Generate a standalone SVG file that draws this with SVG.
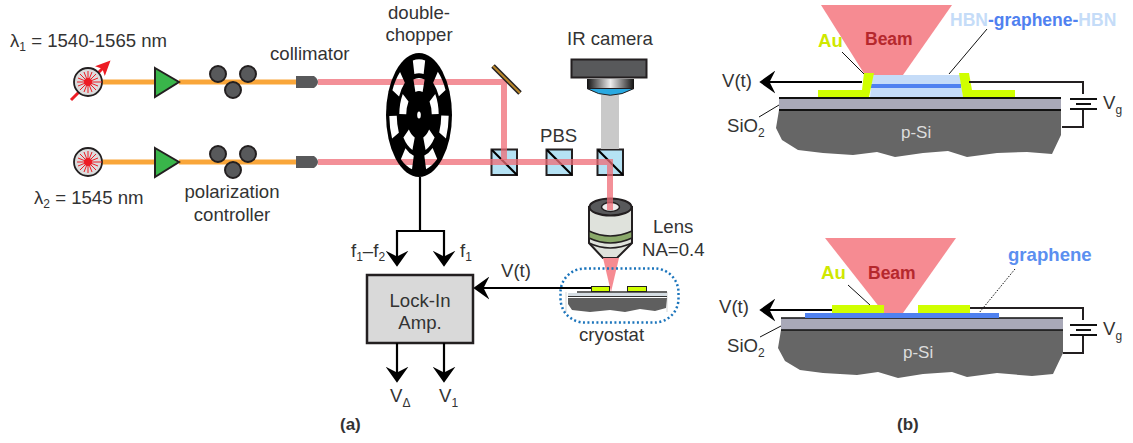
<svg xmlns="http://www.w3.org/2000/svg" width="1133" height="443" viewBox="0 0 1133 443">
<style>
text{font-family:"Liberation Sans",Arial,sans-serif;font-size:18.600px;fill:#333}
.m{text-anchor:middle}
.b{font-weight:700}
.sub{font-size:12px}
.fib{stroke:#f9a63a;stroke-width:5;fill:none}
.beam{stroke:#ef6b76;stroke-opacity:.75;stroke-width:6;fill:none}
.amp{fill:#39b54a;stroke:#231f20;stroke-width:2}
.pc{fill:#58595b;stroke:#231f20;stroke-width:2}
.coll{fill:#58595b}
.cube{fill:#b5e2f4;stroke:#231f20;stroke-width:2}
.w{stroke:#000;stroke-width:2.200;fill:none}
.wt{stroke:#231f20;stroke-width:2;fill:none}
.au{fill:#d0ff00}
.sio{fill:#a9a9b8}
.si{fill:#666}
.ln{stroke:#111;stroke-width:1;fill:none}
.lbeam{fill:#f68b92}
.laser{fill:#dcdcdc;stroke:#231f20;stroke-width:1.800}
</style>
<defs>
<marker id="ah" markerUnits="userSpaceOnUse" markerWidth="16" markerHeight="23" refX="9" refY="10" orient="auto" viewBox="0 0 14 20">
<path d="M14 10L0 0L5 10L0 20Z" fill="#000"/>
</marker>
<marker id="rh" markerUnits="userSpaceOnUse" markerWidth="15" markerHeight="14" refX="5" refY="6" orient="auto" viewBox="0 0 13 12">
<path d="M13 6L0 0L3 6L0 12Z" fill="#ed1c24"/>
</marker>
<linearGradient id="cam" x1="0" x2="1" y1="0" y2="0">
<stop offset="0" stop-color="#111"/><stop offset=".5" stop-color="#eee"/><stop offset="1" stop-color="#111"/>
</linearGradient>
<g id="burst" stroke="#ed1c24" stroke-width="1">
<path d="M-11 0H14M0-11V11M-8-8L8 8M-8 8L8-8M-10-4L10 4M-10 4L10-4M-4-10L4 10M4-10L-4 10"/>
<circle r="4" fill="#ed1c24" stroke="none"/>
</g>
<path id="wo" d="M-11.600-54.600A56 56 0 0 1 11.600-54.600L8.700-40.900A42 42 0 0 0-8.700-40.900Z" fill="#000"/>
<path id="wi" d="M-10.500-35.500A37 37 0 0 1 10.500-35.500L6.800-23A24 24 0 0 0-6.800-23Z" fill="#000"/>
<mask id="holes" maskUnits="userSpaceOnUse" x="370" y="40" width="100" height="150">
<rect x="370" y="40" width="100" height="150" fill="#fff"/>
<g transform="translate(419 115) scale(.532 1)">
<use href="#wo"/><use href="#wo" transform="rotate(51.4)"/><use href="#wo" transform="rotate(102.8)"/><use href="#wo" transform="rotate(154.2)"/><use href="#wo" transform="rotate(205.6)"/><use href="#wo" transform="rotate(257)"/><use href="#wo" transform="rotate(308.4)"/>
<use href="#wi"/><use href="#wi" transform="rotate(72)"/><use href="#wi" transform="rotate(144)"/><use href="#wi" transform="rotate(216)"/><use href="#wi" transform="rotate(288)"/>
</g>
</mask>
</defs>

<g id="pbs-cubes">
<g id="pbs1"><rect class="cube" x="491.500" y="149.500" width="25.500" height="25.500"/><path class="w" d="M492 150L517 175"/></g>
<g id="pbs2"><rect class="cube" x="546.500" y="149.500" width="25.500" height="25.500"/><path class="w" d="M547 150L572 175"/></g>
<g id="pbs3"><rect class="cube" x="597.500" y="149.500" width="25.500" height="25.500"/><path class="w" d="M598 150L623 175"/></g>
</g>
<rect id="ir-path" x="601" y="95" width="18" height="54" fill="#c9c9c9"/>

<g id="objective">
<path d="M589 207V243L603 258H617L632 243V207Z" fill="#dfe2dc" stroke="#231f20" stroke-width="2"/>
<path d="M589 231Q610 241 632 231V238Q610 248 589 238Z" fill="#8aa96a" stroke="#231f20" stroke-width="1.500"/>
<path d="M589 243Q610 253 632 243" fill="none" stroke="#231f20" stroke-width="1.500"/>
<ellipse cx="610.500" cy="207" rx="21" ry="8.500" fill="#58595b" stroke="#231f20" stroke-width="2"/>
<ellipse cx="610.500" cy="207" rx="9" ry="4.500" fill="#eee" stroke="#231f20" stroke-width="1.500"/>
</g>

<g id="beams">
<path class="beam" d="M318 82H504V160"/>
<path class="beam" d="M318 162H610V210"/>
<path d="M603 258H619L611 292Z" class="lbeam"/>
</g>

<g id="fibers">
<path class="fib" d="M102 82H155M179 82H296"/>
<path class="fib" d="M102 162H155M179 162H296"/>
</g>

<g id="laser1">
<path d="M71 100L104 67" stroke="#ed1c24" stroke-width="3" marker-end="url(#rh)"/>
<circle class="laser" cx="88" cy="82" r="14"/>
<use href="#burst" x="88" y="82"/>
</g>
<g id="laser2">
<circle class="laser" cx="88" cy="162" r="14"/>
<use href="#burst" x="88" y="162"/>
</g>
<g id="amp1"><path class="amp" d="M155 68L179 82L155 97Z"/></g>
<g id="amp2"><path class="amp" d="M155 148L179 162L155 177Z"/></g>
<g id="pc1"><circle class="pc" cx="218" cy="74" r="8"/><circle class="pc" cx="248" cy="74" r="8"/><circle class="pc" cx="233" cy="90" r="8"/></g>
<g id="pc2"><circle class="pc" cx="218" cy="154" r="8"/><circle class="pc" cx="248" cy="154" r="8"/><circle class="pc" cx="233" cy="170" r="8"/></g>
<g id="coll1"><path class="coll" d="M296 76H314Q318 79 318 82Q318 85 314 88H296Z"/></g>
<g id="coll2"><path class="coll" d="M296 156H314Q318 159 318 162Q318 165 314 168H296Z"/></g>

<g id="chopper">
<ellipse cx="419" cy="115" rx="33" ry="62" fill="#000" mask="url(#holes)"/>
<ellipse cx="419" cy="115" rx="1.800" ry="3.500" fill="#fff"/>
</g>

<g id="mirror"><path d="M493 66L520 93" stroke="#231f20" stroke-width="5"/><path d="M493 66L520 93" stroke="#b8862b" stroke-width="2.200"/></g>

<g id="ir-camera">
<rect x="571.500" y="59.500" width="75" height="18" fill="#58595b" stroke="#231f20" stroke-width="2"/>
<rect x="587" y="79" width="47" height="10" fill="url(#cam)"/>
<path d="M587 88.500H634Q610 102 587 88.500Z" fill="#29a9e1" stroke="#231f20" stroke-width="1"/>
</g>

<g id="cryostat">
<rect x="560.500" y="268.500" width="118" height="54" rx="24" fill="none" stroke="#1c75bc" stroke-width="2.500" stroke-dasharray="2 2.500"/>
<path d="M566 292V312M667 292V312" stroke="#ccc" stroke-width=".8"/>
<path d="M568 298H667L666 308L655 311L640 309L625 312L610 310L590 312L572 310L568 304Z" fill="#5f5f5f"/>
<rect x="568" y="293" width="99" height="3" fill="#d5dde3"/>
<path d="M577 292H667" stroke="#333" stroke-width="1.500"/>
<path d="M568 296.500H667" stroke="#333" stroke-width="1"/>
<rect x="591.500" y="286.500" width="18" height="5" fill="#d0ff00" stroke="#231f20"/>
<rect x="627.500" y="286.500" width="19" height="5" fill="#d0ff00" stroke="#231f20"/>
</g>

<g id="lockin">
<rect x="367" y="275" width="106" height="68" fill="#d9d9d9" stroke="#231f20" stroke-width="2.500"/>
<text class="m" x="420" y="307">Lock-In</text>
<text class="m" x="420" y="329">Amp.</text>
</g>

<g id="connectors">
<path class="w" d="M420 177V230"/>
<path class="w" d="M397 231H444"/>
<path class="w" d="M397 230V261" marker-end="url(#ah)"/>
<path class="w" d="M444 230V261" marker-end="url(#ah)"/>
<path class="w" d="M397 343V377" marker-end="url(#ah)"/>
<path class="w" d="M444 343V377" marker-end="url(#ah)"/>
<path class="w" d="M591 288H479" marker-end="url(#ah)"/>
</g>

<g id="labels-a">
<text x="10" y="47">λ<tspan class="sub" dy="4">1</tspan><tspan dy="-4"> = 1540-1565 nm</tspan></text>
<text x="34" y="204">λ<tspan class="sub" dy="4">2</tspan><tspan dy="-4"> = 1545 nm</tspan></text>
<text x="270" y="60">collimator</text>
<text class="m" x="419" y="19">double-</text>
<text class="m" x="419" y="41">chopper</text>
<text x="567" y="45">IR camera</text>
<text x="540" y="142">PBS</text>
<text class="m" x="232" y="198">polarization</text>
<text class="m" x="232" y="221">controller</text>
<text x="653" y="233">Lens</text>
<text x="642" y="256">NA=0.4</text>
<text x="501" y="277">V(t)</text>
<text x="351" y="257">f<tspan class="sub" dy="4">1</tspan><tspan dy="-4">–f</tspan><tspan class="sub" dy="4">2</tspan></text>
<text x="460" y="257">f<tspan class="sub" dy="4">1</tspan></text>
<text x="579" y="341">cryostat</text>
<text x="390" y="402">V<tspan class="sub" dy="5">Δ</tspan></text>
<text x="439" y="402">V<tspan class="sub" dy="5">1</tspan></text>
<text class="b" x="340" y="430" style="font-size:17px">(a)</text>
</g>

<g id="device-top">
<path class="lbeam" d="M821 5H952L903 75H865Z"/>
<path class="si" d="M779 110L776 128L782 140L798 150L823 153L853 155L877 152L895 157L923 153L948 151L967 157L997 153L1027 152L1052 154L1061 135V110Z"/>
<rect class="sio" x="779" y="98" width="282" height="12"/>
<path d="M779 98H1061M779 110H1061" stroke="#111" stroke-width="1.800"/>
<path d="M870 97L872.500 75H960L963 97Z" fill="#c5dcf8"/>
<rect x="871" y="84" width="90" height="4" fill="#4f81f0"/>
<path class="au" d="M818 90H862L864 73H874L869 97H818Z"/>
<path class="au" d="M959 73H969L972 90H1015V97H963Z"/>
<path class="ln" d="M842 52L864 74M987 29L949 74M759 117L779 105"/>
<path class="w" d="M862 82H765" marker-end="url(#ah)"/>
<path class="wt" d="M969 82H1083V94M1083 109V127H1062"/>
<path d="M1070 99H1097M1076 104H1091M1070 109H1097" stroke="#111" stroke-width="2"/>
<text class="b" x="818" y="47" style="fill:#cfe800">Au</text>
<text class="b" x="865" y="45" style="fill:#b5282d;font-size:17.500px">Beam</text>
<text class="b" x="950" y="26" style="fill:#c5dcf8;font-size:17.500px">HBN<tspan style="fill:#4f81f0">-graphene-</tspan>HBN</text>
<text x="722" y="87">V(t)</text>
<text x="1103" y="109">V<tspan class="sub" dy="5">g</tspan></text>
<text x="727" y="132">SiO<tspan class="sub" dy="5">2</tspan></text>
<text x="901" y="138" style="fill:#ddd;font-size:17px">p-Si</text>
</g>

<g id="device-bottom">
<path class="lbeam" d="M825 238H956L903 313H884Z"/>
<path class="si" d="M781 330L778 348L785 361L800 370L823 373L857 375L878 372L898 378L923 374L952 372L967 377L997 373L1032 376L1053 374L1063 353V330Z"/>
<rect class="sio" x="781" y="318" width="282" height="12"/>
<path d="M781 318H1063M781 330H1063" stroke="#111" stroke-width="1.600"/>
<rect x="805" y="313" width="194" height="5" fill="#4f81f0"/>
<rect class="au" x="832" y="305" width="52" height="8"/>
<rect class="au" x="918" y="305" width="52" height="8"/>
<path class="ln" d="M848 285L870 305M760 337L781 326"/>
<path class="ln" stroke-dasharray="1.500 1.500" d="M1015 269L979 313"/>
<path class="w" d="M832 310H765" marker-end="url(#ah)"/>
<path class="wt" d="M970 308H1083V320M1083 335V353H1063"/>
<path d="M1070 325H1097M1076 330H1091M1070 335H1097" stroke="#111" stroke-width="2"/>
<text class="b" x="821" y="279" style="fill:#cfe800">Au</text>
<text class="b" x="868" y="279" style="fill:#b5282d;font-size:17.500px">Beam</text>
<text class="b" x="1008" y="261" style="fill:#5b8ff0">graphene</text>
<text x="719" y="313">V(t)</text>
<text x="1103" y="335">V<tspan class="sub" dy="5">g</tspan></text>
<text x="727" y="352">SiO<tspan class="sub" dy="5">2</tspan></text>
<text x="903" y="358" style="fill:#ddd;font-size:17px">p-Si</text>
<text class="b" x="897" y="430" style="font-size:17px">(b)</text>
</g>
</svg>
